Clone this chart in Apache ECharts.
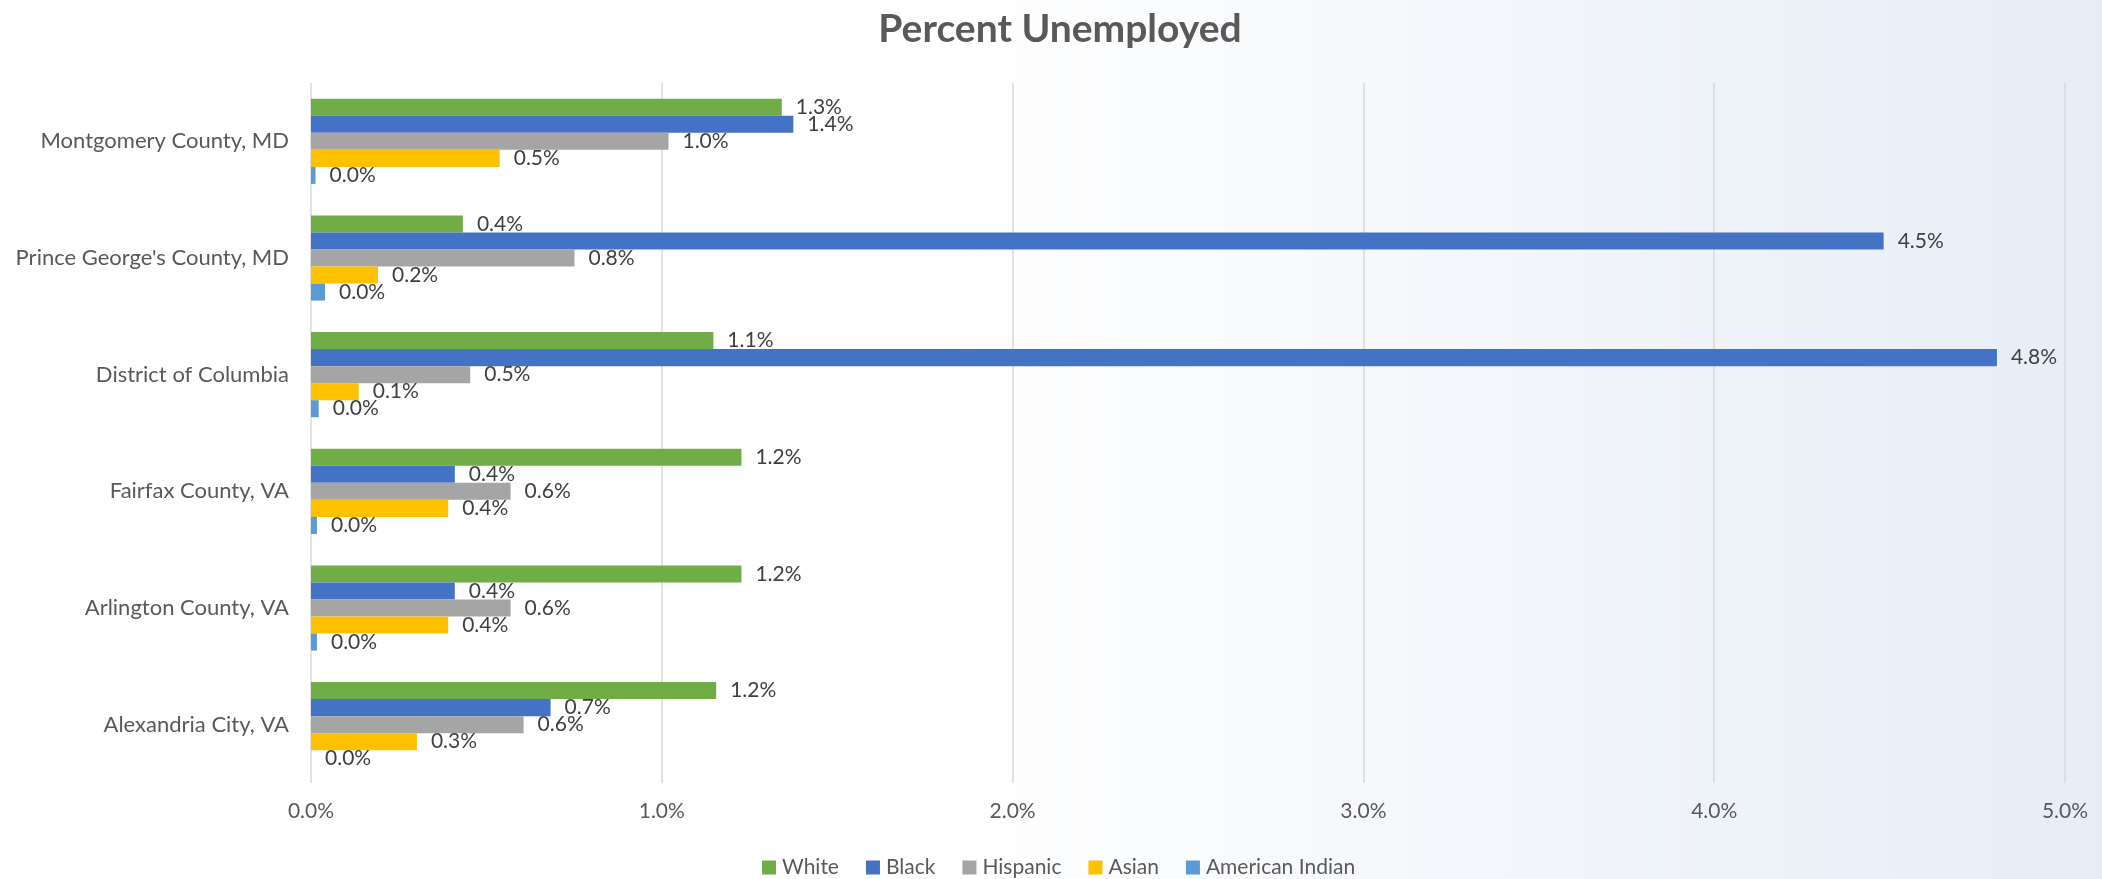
<!DOCTYPE html>
<html>
<head>
<meta charset="utf-8">
<script src="https://cdn.jsdelivr.net/npm/echarts@6/dist/echarts.min.js"></script>
<style>
  html, body { margin: 0; padding: 0; }
  #chart { width: 2102px; height: 879px; }
</style>
</head>
<body>
<div id="chart"></div>
<script>
// Counties, listed top to bottom
const categories = [
  'Montgomery County, MD',
  "Prince George's County, MD",
  'District of Columbia',
  'Fairfax County, VA',
  'Arlington County, VA',
  'Alexandria City, VA'
];

// Percent unemployed by group (percent units)
const white    = [1.342, 0.433, 1.147, 1.227, 1.227, 1.155];
const black    = [1.375, 4.483, 4.806, 0.410, 0.410, 0.683];
const hispanic = [1.019, 0.751, 0.454, 0.569, 0.569, 0.606];
const asian    = [0.538, 0.191, 0.136, 0.391, 0.391, 0.302];
const amIndian = [0.013, 0.040, 0.022, 0.017, 0.017, 0.000];

const seriesNames = ['White', 'Black', 'Hispanic', 'Asian', 'American Indian'];
const seriesData = [white, black, hispanic, asian, amIndian];
const seriesColors = ['#70AD47', '#4472C4', '#A5A5A5', '#FFC000', '#5B9BD5'];

const FONT = 'Lato';

const chart = echarts.init(document.getElementById('chart'), null, { renderer: 'canvas' });

const series = seriesNames.map((name, i) => ({
  name: name,
  type: 'bar',
  data: seriesData[i],
  itemStyle: { color: seriesColors[i] },
  barGap: '0%',
  barCategoryGap: '27%',
  label: {
    show: true,
    position: 'right',
    distance: 14,
    color: '#404040',
    fontFamily: FONT,
    fontSize: 21,
    formatter: p => p.value.toFixed(1) + '%'
  }
}));

chart.setOption({
  backgroundColor: {
    type: 'linear', x: 0, y: 0, x2: 1, y2: 0,
    colorStops: [
      { offset: 0, color: '#ffffff' },
      { offset: 0.45, color: '#ffffff' },
      { offset: 1, color: '#e6edf6' }
    ]
  },
  animation: false,
  title: {
    text: 'Percent Unemployed',
    left: 1055,
    textAlign: 'center',
    top: 5,
    textStyle: { fontFamily: FONT, fontWeight: 'bold', fontSize: 39, color: '#595959' }
  },
  legend: {
    data: seriesNames,
    bottom: 1,
    left: 762,
    padding: 0,
    icon: 'rect',
    itemWidth: 14,
    itemHeight: 14,
    itemGap: 27,
    textStyle: { fontFamily: FONT, fontSize: 21, color: '#595959', padding: [0, 0, 0, 1] }
  },
  grid: { left: 311, right: 37, top: 83, bottom: 96, containLabel: false },
  xAxis: {
    type: 'value',
    min: 0,
    max: 5,
    interval: 1,
    axisLine: { show: false },
    axisTick: { show: false },
    splitLine: { show: true, lineStyle: { color: '#d9d9d9', width: 1.5 } },
    axisLabel: {
      margin: 18,
      color: '#595959',
      fontFamily: FONT,
      fontSize: 21,
      formatter: v => v.toFixed(1) + '%'
    }
  },
  yAxis: {
    type: 'category',
    data: categories,
    inverse: true,
    axisLine: { show: false },
    axisTick: { show: false },
    axisLabel: { margin: 22, color: '#595959', fontFamily: FONT, fontSize: 22 }
  },
  series: series
});
</script>
</body>
</html>
